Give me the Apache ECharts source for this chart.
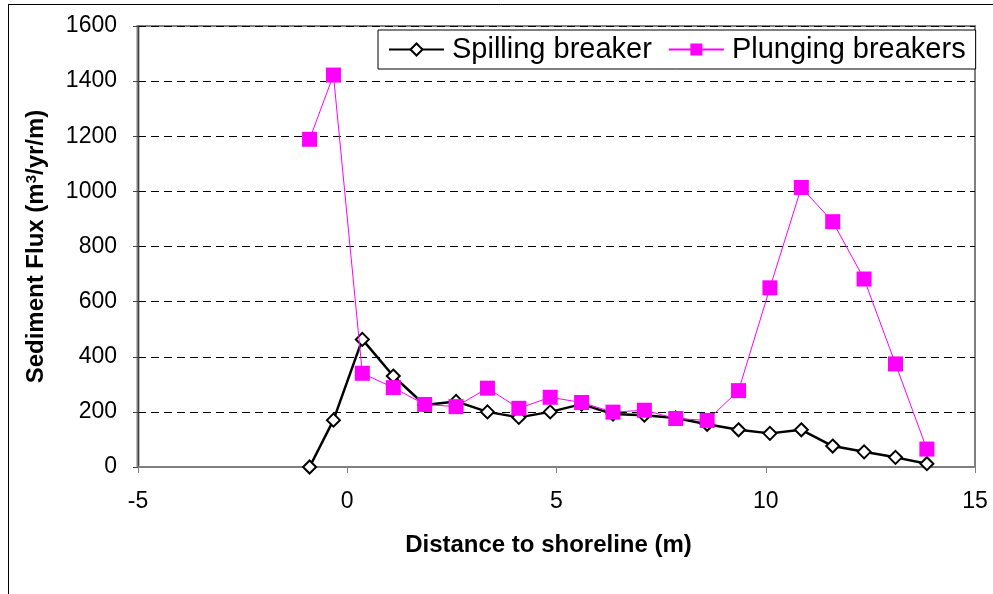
<!DOCTYPE html>
<html>
<head>
<meta charset="utf-8">
<script src="https://cdn.jsdelivr.net/npm/echarts@6/dist/echarts.min.js"></script>
<style>
html,body{margin:0;padding:0;background:#fff;}
#chart{width:993px;height:594px;}
</style>
</head>
<body>
<div id="chart"></div>
<script>
var distance = [-0.9, -0.33, 0.36, 1.1, 1.85, 2.6, 3.35, 4.1, 4.85, 5.6, 6.35, 7.1, 7.85, 8.6, 9.35, 10.1, 10.85, 11.6, 12.35, 13.1, 13.85];
var spilling = [0, 170, 463, 330, 225, 238, 200, 180, 200, 228, 192, 188, 178, 155, 135, 122, 135, 76, 55, 35, 12];
var plunging = [1189, 1422, 340, 288, 227, 219, 286, 213, 253, 234, 199, 206, 176, 169, 277, 650, 1014, 890, 682, 374, 65];
var seriesNames = ['Spilling breaker', 'Plunging breakers'];

function pairs(xs, ys) { return xs.map(function (x, i) { return [x, ys[i]]; }); }

var FONT = '"Liberation Sans", Arial, sans-serif';
var chart = echarts.init(document.getElementById('chart'), null, {renderer: 'canvas'});
chart.setOption({
  backgroundColor: '#ffffff',
  animation: false,
  graphic: [
    {type: 'line', shape: {x1: 8, y1: 4.5, x2: 993, y2: 4.5}, style: {stroke: '#000', lineWidth: 1}},
    {type: 'line', shape: {x1: 8.5, y1: 4, x2: 8.5, y2: 594}, style: {stroke: '#000', lineWidth: 1}},
    {type: 'line', shape: {x1: 138, y1: 25, x2: 138, y2: 467}, style: {stroke: '#808080', lineWidth: 3}}
  ],
  grid: {left: 138, right: 18, top: 26, bottom: 127, show: true, borderColor: '#808080', borderWidth: 2, backgroundColor: 'transparent'},
  legend: {
    left: 378, top: 30, padding: [5, 10, 5, 10],
    borderColor: '#000', borderWidth: 1, backgroundColor: '#fff',
    itemWidth: 55, itemHeight: 15, itemGap: 16,
    textStyle: {fontFamily: FONT, fontSize: 29, color: '#000', padding: [0, 0, 0, 3]},
    data: seriesNames
  },
  xAxis: {
    type: 'value', min: -5, max: 15, interval: 5,
    name: 'Distance to shoreline (m)', nameLocation: 'middle', nameGap: 66,
    nameTextStyle: {fontFamily: FONT, fontSize: 24, fontWeight: 'bold', color: '#000', padding: [0, 16, 0, 0]},
    axisLine: {show: true, onZero: false, lineStyle: {color: '#808080', width: 2}},
    axisTick: {show: true, length: 6, lineStyle: {color: '#808080', width: 1}},
    axisLabel: {fontFamily: FONT, fontSize: 23, color: '#000', margin: 23},
    splitLine: {show: false}
  },
  yAxis: [
    {
      type: 'value', min: 0, max: 1600, interval: 200,
      name: '{a|Sediment Flux (m}{s|3}{a|/yr/m)}', nameLocation: 'middle', nameGap: 89,
      nameTextStyle: {
        fontFamily: FONT, fontSize: 24, fontWeight: 'bold', color: '#000',
        rich: {
          a: {fontFamily: FONT, fontSize: 24, fontWeight: 'bold', color: '#000'},
          s: {fontFamily: FONT, fontSize: 15, fontWeight: 'bold', color: '#000', verticalAlign: 'top', padding: [0, 0, 10, 0]}
        }
      },
      axisLine: {show: false},
      axisTick: {show: false},
      axisLabel: {fontFamily: FONT, fontSize: 23, color: '#000', margin: 21, formatter: function (v) { return String(v); }},
      splitLine: {show: true, lineStyle: {color: '#000', type: [8, 5], width: 1}}
    },
    {
      type: 'value', min: 0, max: 1600, interval: 200, position: 'left',
      axisLine: {show: true, onZero: true, lineStyle: {color: '#404040', width: 1}},
      axisTick: {show: true, length: 5, lineStyle: {color: '#404040'}},
      axisLabel: {show: false},
      splitLine: {show: false}
    }
  ],
  series: [
    {
      name: seriesNames[0], type: 'line', data: pairs(distance, spilling),
      symbol: 'diamond', symbolSize: 13,
      lineStyle: {color: '#000', width: 2.5},
      itemStyle: {color: '#fff', borderColor: '#000', borderWidth: 2},
      z: 3
    },
    {
      name: seriesNames[1], type: 'line', data: pairs(distance, plunging),
      symbol: 'rect', symbolSize: 15,
      lineStyle: {color: '#FF00FF', width: 1},
      itemStyle: {color: '#FF00FF'},
      z: 4
    }
  ]
});
</script>
</body>
</html>
